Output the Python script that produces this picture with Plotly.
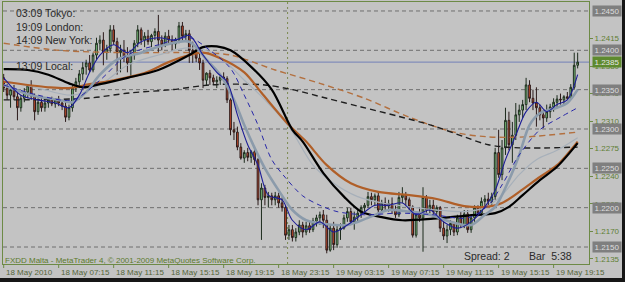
import plotly.graph_objects as go

# ---------------- data (EURUSD-like M15 bars) ----------------
bars = list(range(168))

opens = [1.2365,1.2352,1.2343,1.2350,1.2341,1.2327,1.2339,1.2347,1.2355,1.2342,
1.2322,1.2334,1.2327,1.2333,1.2337,1.2332,1.2337,1.2333,1.2329,1.2315,
1.2327,1.2352,1.2360,1.2370,1.2379,1.2384,1.2375,1.2394,1.2409,1.2413,
1.2397,1.2402,1.2426,1.2411,1.2397,1.2400,1.2391,1.2384,1.2394,1.2409,
1.2426,1.2413,1.2418,1.2411,1.2419,1.2424,1.2413,1.2407,1.2418,1.2413,
1.2408,1.2413,1.2431,1.2418,1.2421,1.2400,1.2397,1.2390,1.2384,1.2362,
1.2371,1.2365,1.2360,1.2362,1.2366,1.2364,1.2337,1.2299,1.2296,1.2277,
1.2263,1.2270,1.2264,1.2271,1.2261,1.2210,1.2225,1.2213,1.2215,1.2210,
1.2215,1.2206,1.2200,1.2165,1.2172,1.2162,1.2169,1.2178,1.2169,1.2177,
1.2172,1.2183,1.2187,1.2191,1.2184,1.2146,1.2174,1.2153,1.2172,1.2174,
1.2187,1.2195,1.2182,1.2188,1.2193,1.2200,1.2203,1.2214,1.2210,1.2215,
1.2197,1.2206,1.2202,1.2205,1.2197,1.2191,1.2213,1.2216,1.2210,1.2201,
1.2165,1.2191,1.2187,1.2213,1.2197,1.2203,1.2195,1.2200,1.2174,1.2164,
1.2172,1.2180,1.2169,1.2187,1.2178,1.2192,1.2172,1.2187,1.2200,1.2193,
1.2208,1.2211,1.2208,1.2214,1.2270,1.2242,1.2276,1.2311,1.2280,1.2292,
1.2318,1.2324,1.2331,1.2356,1.2339,1.2333,1.2327,1.2318,1.2314,1.2322,
1.2328,1.2334,1.2338,1.2337,1.2341,1.2339,1.2353,1.2381]

highs = [1.2370,1.2357,1.2352,1.2356,1.2347,1.2343,1.2352,1.2356,1.2362,1.2345,
1.2339,1.2339,1.2337,1.2339,1.2341,1.2339,1.2342,1.2337,1.2334,1.2331,
1.2357,1.2365,1.2375,1.2385,1.2388,1.2394,1.2397,1.2416,1.2419,1.2423,
1.2407,1.2432,1.2432,1.2416,1.2407,1.2413,1.2404,1.2400,1.2413,1.2432,
1.2429,1.2423,1.2426,1.2421,1.2428,1.2445,1.2419,1.2423,1.2426,1.2419,
1.2416,1.2436,1.2436,1.2426,1.2426,1.2411,1.2403,1.2398,1.2388,1.2372,
1.2375,1.2369,1.2367,1.2369,1.2372,1.2367,1.2339,1.2309,1.2303,1.2282,
1.2273,1.2276,1.2273,1.2276,1.2263,1.2231,1.2229,1.2220,1.2219,1.2220,
1.2219,1.2213,1.2203,1.2178,1.2178,1.2174,1.2184,1.2182,1.2182,1.2182,
1.2187,1.2191,1.2195,1.2197,1.2191,1.2178,1.2182,1.2177,1.2180,1.2191,
1.2200,1.2200,1.2195,1.2197,1.2203,1.2206,1.2220,1.2219,1.2218,1.2220,
1.2210,1.2213,1.2210,1.2213,1.2203,1.2220,1.2226,1.2220,1.2213,1.2203,
1.2195,1.2200,1.2226,1.2216,1.2210,1.2210,1.2203,1.2202,1.2182,1.2178,
1.2184,1.2182,1.2191,1.2195,1.2197,1.2197,1.2191,1.2203,1.2203,1.2213,
1.2216,1.2219,1.2219,1.2276,1.2299,1.2286,1.2327,1.2322,1.2309,1.2333,
1.2331,1.2337,1.2365,1.2362,1.2350,1.2353,1.2331,1.2324,1.2331,1.2332,
1.2339,1.2343,1.2345,1.2343,1.2347,1.2357,1.2397,1.2397]

lows = [1.2347,1.2337,1.2327,1.2337,1.2311,1.2322,1.2334,1.2339,1.2337,1.2311,
1.2318,1.2322,1.2322,1.2327,1.2329,1.2327,1.2329,1.2324,1.2309,1.2311,
1.2322,1.2347,1.2352,1.2362,1.2369,1.2372,1.2372,1.2388,1.2400,1.2381,
1.2388,1.2397,1.2407,1.2369,1.2372,1.2385,1.2372,1.2365,1.2388,1.2404,
1.2407,1.2404,1.2407,1.2404,1.2413,1.2397,1.2400,1.2404,1.2407,1.2400,
1.2402,1.2409,1.2413,1.2413,1.2384,1.2384,1.2385,1.2375,1.2352,1.2356,
1.2356,1.2356,1.2352,1.2356,1.2360,1.2333,1.2292,1.2286,1.2273,1.2261,
1.2257,1.2259,1.2257,1.2254,1.2203,1.2159,1.2203,1.2200,1.2203,1.2203,
1.2200,1.2195,1.2159,1.2159,1.2157,1.2157,1.2165,1.2162,1.2165,1.2168,
1.2169,1.2176,1.2178,1.2174,1.2142,1.2144,1.2146,1.2149,1.2159,1.2172,
1.2182,1.2182,1.2172,1.2182,1.2187,1.2192,1.2200,1.2203,1.2202,1.2193,
1.2193,1.2197,1.2195,1.2192,1.2187,1.2188,1.2206,1.2203,1.2197,1.2162,
1.2162,1.2182,1.2144,1.2191,1.2193,1.2191,1.2191,1.2169,1.2159,1.2155,
1.2165,1.2164,1.2165,1.2174,1.2174,1.2168,1.2168,1.2182,1.2189,1.2191,
1.2201,1.2203,1.2203,1.2210,1.2238,1.2235,1.2267,1.2273,1.2257,1.2286,
1.2309,1.2314,1.2324,1.2334,1.2324,1.2303,1.2311,1.2301,1.2309,1.2314,
1.2322,1.2327,1.2331,1.2332,1.2337,1.2337,1.2350,1.2377]

closes = [1.2352,1.2343,1.2350,1.2341,1.2327,1.2339,1.2347,1.2355,1.2342,1.2322,
1.2334,1.2327,1.2333,1.2337,1.2332,1.2337,1.2333,1.2329,1.2315,1.2327,
1.2352,1.2360,1.2370,1.2378,1.2384,1.2375,1.2394,1.2409,1.2413,1.2397,
1.2402,1.2426,1.2411,1.2397,1.2400,1.2391,1.2384,1.2394,1.2409,1.2426,
1.2413,1.2418,1.2411,1.2419,1.2424,1.2413,1.2407,1.2418,1.2413,1.2408,
1.2413,1.2431,1.2418,1.2421,1.2400,1.2397,1.2390,1.2384,1.2362,1.2371,
1.2365,1.2360,1.2362,1.2366,1.2364,1.2337,1.2299,1.2296,1.2277,1.2263,
1.2270,1.2264,1.2271,1.2261,1.2210,1.2225,1.2213,1.2215,1.2210,1.2215,
1.2206,1.2200,1.2165,1.2172,1.2162,1.2169,1.2178,1.2169,1.2177,1.2172,
1.2183,1.2187,1.2191,1.2184,1.2146,1.2174,1.2153,1.2172,1.2174,1.2187,
1.2195,1.2182,1.2188,1.2193,1.2200,1.2203,1.2214,1.2210,1.2215,1.2197,
1.2206,1.2202,1.2205,1.2197,1.2191,1.2213,1.2216,1.2210,1.2201,1.2165,
1.2191,1.2187,1.2213,1.2197,1.2203,1.2195,1.2200,1.2174,1.2164,1.2172,
1.2180,1.2169,1.2187,1.2178,1.2192,1.2172,1.2187,1.2200,1.2193,1.2208,
1.2211,1.2208,1.2214,1.2270,1.2242,1.2276,1.2311,1.2280,1.2292,1.2318,
1.2324,1.2331,1.2356,1.2339,1.2333,1.2327,1.2318,1.2314,1.2322,1.2328,
1.2334,1.2338,1.2337,1.2341,1.2339,1.2353,1.2381,1.2385]

# moving averages (sampled along the bars)
ma_black_x = [0,7,13,19,23,28,36,45,54,58,62,66,72,78,84,87,93,99,104,110,116,125,135,143,147,151,156,161,167]
ma_black_y = [1.2376,1.2375,1.2369,1.2358,1.2353,1.2357,1.2365,1.2375,1.2394,1.2404,1.2405,1.2400,1.2379,1.2350,
              1.2299,1.2284,1.2244,1.2214,1.2195,1.2188,1.2184,1.2186,1.2190,1.2193,1.2201,1.2216,1.2235,1.2252,1.2282]

ma_brown_x = [0,13,19,25,32,41,48,54,58,63,70,75,83,88,94,101,109,118,126,134,140,145,150,156,161,167]
ma_brown_y = [1.2360,1.2353,1.2352,1.2357,1.2362,1.2371,1.2385,1.2394,1.2397,1.2390,1.2372,1.2346,1.2305,1.2284,
              1.2254,1.2231,1.2220,1.2216,1.2211,1.2202,1.2201,1.2206,1.2220,1.2239,1.2254,1.2284]

ma_black_long_x = [0,24,37,49,60,69,76,84,94,104,115,125,134,141,150,167]
ma_black_long_y = [1.2337,1.2339,1.2346,1.2350,1.2356,1.2357,1.2356,1.2350,1.2339,1.2328,1.2316,1.2304,1.2290,1.2280,1.2276,1.2277]

ma_brown_long_x = [0,16,35,55,66,79,92,105,118,131,141,152,167]
ma_brown_long_y = [1.2409,1.2400,1.2397,1.2397,1.2394,1.2375,1.2358,1.2339,1.2315,1.2296,1.2290,1.2290,1.2296]

ma_fast_x = [0,5,10,15,19,22,25,28,32,36,40,45,50,54,58,62,65,68,71,74,77,81,84,88,92,96,100,104,108,112,116,
             120,124,128,132,136,140,143,146,149,152,155,158,161,164,167]
ma_fast_y = [1.2365,1.2343,1.2337,1.2333,1.2327,1.2343,1.2372,1.2394,1.2407,1.2397,1.2411,1.2416,1.2413,1.2419,
             1.2394,1.2372,1.2360,1.2318,1.2280,1.2254,1.2216,1.2210,1.2184,1.2172,1.2182,1.2169,1.2178,1.2191,
             1.2203,1.2203,1.2206,1.2191,1.2197,1.2182,1.2174,1.2182,1.2201,1.2222,1.2261,1.2292,1.2322,1.2334,
             1.2322,1.2331,1.2337,1.2369]

ma_gray_x = [0,8,16,20,24,28,33,40,47,54,59,63,67,70,73,76,80,84,88,94,100,106,112,118,124,130,136,140,143,147,
             150,153,156,161,164,167]
ma_gray_y = [1.2356,1.2343,1.2337,1.2334,1.2347,1.2369,1.2388,1.2397,1.2407,1.2411,1.2388,1.2369,1.2337,1.2305,
             1.2276,1.2250,1.2222,1.2197,1.2184,1.2179,1.2178,1.2187,1.2197,1.2195,1.2191,1.2182,1.2178,1.2191,
             1.2201,1.2235,1.2267,1.2305,1.2320,1.2327,1.2333,1.2350]

ma_light_x = [0,10,20,28,36,45,54,62,70,76,83,90,96,103,110,118,126,134,140,145,150,155,161,167]
ma_light_y = [1.2362,1.2352,1.2343,1.2356,1.2381,1.2394,1.2403,1.2394,1.2362,1.2337,1.2303,1.2254,1.2231,1.2214,
              1.2206,1.2201,1.2197,1.2195,1.2200,1.2216,1.2242,1.2261,1.2273,1.2289]

ma_dash_x = [0,10,20,28,36,45,54,60,66,70,74,78,82,87,92,97,105,115,125,135,141,145,150,156,162,167]
ma_dash_y = [1.2356,1.2343,1.2337,1.2362,1.2394,1.2407,1.2416,1.2400,1.2377,1.2343,1.2305,1.2261,1.2238,1.2215,
             1.2203,1.2195,1.2191,1.2193,1.2191,1.2187,1.2203,1.2229,1.2267,1.2299,1.2315,1.2327]

grid_levels = [1.2450, 1.2400, 1.2350, 1.2300, 1.2250, 1.2200, 1.2150]
price_ticks = [1.2135, 1.2170, 1.2205, 1.2240, 1.2275, 1.2310, 1.2345, 1.2380, 1.2415]
bid_price = 1.2385
x_label_bars = [0, 16, 32, 48, 64, 80, 96, 112, 128, 144, 160]
x_labels = ["18 May 2010", "18 May 07:15", "18 May 11:15", "18 May 15:15", "18 May 19:15",
            "18 May 23:15", "19 May 03:15", "19 May 07:15", "19 May 11:15", "19 May 15:15", "19 May 19:15"]
day_separator_bar = 82.6
clock_lines = ["03:09 Tokyo:", "19:09 London:", "14:09 New York:", "13:09 Local:"]
spread_text = "Spread: 2"
bar_text = "Bar\u00a0\u00a05:38"
copyright_text = "FXDD Malta - MetaTrader 4, \u00a9 2001-2009 MetaQuotes Software Corp."

# ---------------- layout geometry ----------------
W, H = 625, 282
ML, MR, MT, MB = 3, 36, 2, 18
PW, PH = W - ML - MR, H - MT - MB
FONT = "Liberation Sans, Arial, sans-serif"
BG = "#c3c3c3"
OLIVE = "#6d8a46"


def px(xp):
    return (xp - ML) / PW


def py(yp):
    return (H - MB - yp) / PH


fig = go.Figure()

def ma(xs, ys, color, width, dash="solid"):
    fig.add_trace(go.Scatter(x=xs, y=ys, mode="lines", hoverinfo="skip",
                             line=dict(color=color, width=width, dash=dash, shape="spline", smoothing=0.9)))

ma(ma_brown_long_x, ma_brown_long_y, "#b3703f", 1.4, "6px,4px")
ma(ma_black_long_x, ma_black_long_y, "#1e1e1e", 1.4, "6px,4px")
ma(ma_light_x, ma_light_y, "#a7b0ba", 1.2)
ma(ma_brown_x, ma_brown_y, "#b05f28", 2.2)
ma(ma_black_x, ma_black_y, "#000000", 2.2)
ma(ma_gray_x, ma_gray_y, "#8b9bab", 2.6)
ma(ma_dash_x, ma_dash_y, "#2727a8", 1.0, "5px,4px")
ma(ma_fast_x, ma_fast_y, "#1d1d96", 1.1)

fig.add_trace(go.Candlestick(
    x=bars, open=opens, high=highs, low=lows, close=closes,
    increasing=dict(line=dict(color="#1d2b1d", width=1), fillcolor="#86d486"),
    decreasing=dict(line=dict(color="#2b1a1a", width=1), fillcolor="#d4502c"),
    whiskerwidth=0, hoverinfo="skip", showlegend=False))

shapes = []
for lv in grid_levels:
    shapes.append(dict(type="line", xref="paper", x0=0, x1=1, yref="y", y0=lv, y1=lv,
                       line=dict(color="#6f6f6f", width=1, dash="4px,3px"), layer="below"))
shapes.append(dict(type="line", xref="paper", x0=0, x1=1, yref="y", y0=bid_price, y1=bid_price,
                   line=dict(color="#7380b8", width=1), layer="below"))
shapes.append(dict(type="line", xref="x", x0=day_separator_bar, x1=day_separator_bar, yref="paper", y0=0, y1=1,
                   line=dict(color="#7c8a50", width=1, dash="2px,3px"), layer="below"))
for b in x_label_bars:
    shapes.append(dict(type="line", xref="x", x0=b, x1=b, yref="paper", y0=0, y1=-4 / PH,
                       line=dict(color=OLIVE, width=1)))
# window frame (dark strips)
shapes.append(dict(type="rect", xref="paper", yref="paper", x0=px(0), x1=px(W), y0=py(278), y1=py(H),
                   fillcolor="#161616", line=dict(width=0)))
shapes.append(dict(type="rect", xref="paper", yref="paper", x0=px(622), x1=px(W), y0=py(0), y1=py(H),
                   fillcolor="#161616", line=dict(width=0)))

ann = []
for lv in grid_levels:
    ann.append(dict(xref="paper", x=1, xanchor="left", xshift=3, yref="y", y=lv, yanchor="middle",
                    text=f"{lv:.4f}", showarrow=False, bgcolor="#7f7f7f", width=28, height=10, borderpad=0,
                    font=dict(family=FONT, size=8, color="#dedede")))
ann.append(dict(xref="paper", x=1, xanchor="left", xshift=3, yref="y", y=bid_price, yanchor="middle",
                text=f"{bid_price:.4f}", showarrow=False, bgcolor="#5e8a2e", width=28, height=10, borderpad=0,
                font=dict(family=FONT, size=8, color="#e6e6e6")))
for b, t in zip(x_label_bars, x_labels):
    ann.append(dict(xref="x", x=b, xanchor="left", xshift=0, yref="paper", y=py(272), yanchor="middle",
                    text=t, showarrow=False, font=dict(family=FONT, size=8, color="#55653a")))
clock_y = [13, 27, 40, 66]
for t, yy in zip(clock_lines, clock_y):
    ann.append(dict(xref="paper", x=px(14), xanchor="left", yref="paper", y=py(yy), yanchor="middle",
                    text=t, showarrow=False, font=dict(family=FONT, size=10.5, color="#2a2a2a")))
ann.append(dict(xref="paper", x=px(462), xanchor="left", yref="paper", y=py(256), yanchor="middle",
                text=spread_text, showarrow=False, font=dict(family=FONT, size=10.5, color="#2a2a2a")))
ann.append(dict(xref="paper", x=px(527), xanchor="left", yref="paper", y=py(256), yanchor="middle",
                text=bar_text, showarrow=False, font=dict(family=FONT, size=10.5, color="#2a2a2a")))
ann.append(dict(xref="paper", x=px(3), xanchor="left", yref="paper", y=py(260), yanchor="middle",
                text=copyright_text, showarrow=False, font=dict(family=FONT, size=8, color="#5c7a2c")))

fig.update_layout(
    width=W, height=H, margin=dict(l=ML, r=MR, t=MT, b=MB, pad=0),
    paper_bgcolor=BG, plot_bgcolor=BG, showlegend=False, boxgap=0.3,
    shapes=shapes, annotations=ann,
    xaxis=dict(range=[-0.2, 170.3], showticklabels=False, showgrid=False, zeroline=False,
               showline=True, mirror=True, linecolor=OLIVE, linewidth=1, ticks="",
               rangeslider=dict(visible=False), fixedrange=True),
    yaxis=dict(side="right", range=[1.21284, 1.24614], tickvals=price_ticks,
               ticktext=[f"{v:.4f}" for v in price_ticks], tickfont=dict(family=FONT, size=8, color="#5f7f33"),
               ticks="outside", ticklen=3, tickcolor=OLIVE, showgrid=False, zeroline=False,
               showline=True, mirror=True, linecolor=OLIVE, linewidth=1, fixedrange=True),
)

fig.write_html("out.html", config={"displayModeBar": False})
